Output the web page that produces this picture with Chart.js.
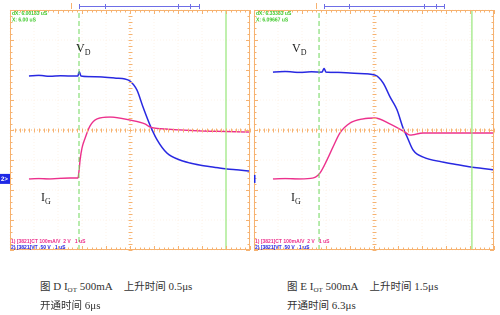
<!DOCTYPE html>
<html lang="zh">
<head>
<meta charset="UTF-8">
<title>IGBT turn-on waveforms</title>
<script src="https://cdn.jsdelivr.net/npm/chart.js@4.4.1/dist/chart.umd.min.js"></script>
<style>
  html, body { margin: 0; padding: 0; background: #fff; }
  body { width: 500px; height: 315px; position: relative; overflow: hidden; }
  .scope { position: absolute; top: 0; height: 256px; }
  #scopeD { left: 0; width: 252px; }
  #scopeE { left: 252px; width: 248px; }
  .lbl { position: absolute; font-family: "Liberation Serif", serif; font-size: 12px; color: #222; line-height: 12px; }
  .lbl sub { font-size: 8px; vertical-align: -3px; line-height: 0; }
  .cap { position: absolute; font-family: "Liberation Serif", "Noto Sans CJK SC", serif; font-size: 11px; color: #333; line-height: 13px; }
  .cap .cjk { font-family: "Noto Sans CJK SC", sans-serif; font-size: 10.5px; }
  .cap sub { font-size: 7px; vertical-align: -2px; line-height: 0; }
</style>
</head>
<body>
<div class="scope" id="scopeD"><canvas id="chartD"></canvas></div>
<div class="scope" id="scopeE"><canvas id="chartE"></canvas></div>

<div class="lbl" style="left:76px; top:42px;">V<sub>D</sub></div>
<div class="lbl" style="left:41px; top:191px;">I<sub>G</sub></div>
<div class="lbl" style="left:292px; top:42px;">V<sub>D</sub></div>
<div class="lbl" style="left:291px; top:191px;">I<sub>G</sub></div>

<div class="cap" style="left:40px; top:279px;"><span class="cjk">图</span> D I<sub>OT</sub> 500mA&nbsp;&nbsp;&nbsp; <span class="cjk">上升时间</span> 0.5μs</div>
<div class="cap" style="left:40px; top:298px;"><span class="cjk">开通时间</span> 6μs</div>
<div class="cap" style="left:287px; top:279px;"><span class="cjk">图</span> E I<sub>OT</sub> 500mA&nbsp;&nbsp;&nbsp; <span class="cjk">上升时间</span> 1.5μs</div>
<div class="cap" style="left:287px; top:298px;"><span class="cjk">开通时间</span> 6.3μs</div>

<script>
// time in divisions (1 uS/div), amplitude in divisions
const vdTimeD = [0.79, 1.2, 1.67, 2.1, 2.5, 2.83, 2.88, 2.96, 3.3, 3.75, 4.38, 4.79, 5.0, 5.29, 5.54, 5.83, 6.13, 6.54, 7.08, 7.5, 7.92, 8.5, 9.04, 9.5, 10.0];
const vdValsD = [1.8, 1.82, 1.79, 1.81, 1.8, 1.8, 1.95, 1.8, 1.78, 1.77, 1.73, 1.7, 1.63, 1.33, 0.77, 0.17, -0.33, -0.77, -1.0, -1.1, -1.17, -1.24, -1.3, -1.33, -1.37];
const igTimeD = [0.79, 1.2, 1.67, 2.1, 2.5, 2.83, 2.88, 2.92, 3.0, 3.13, 3.33, 3.63, 4.17, 5.0, 5.63, 5.83, 6.54, 7.92, 9.0, 10.0];
const igValsD = [-1.63, -1.62, -1.63, -1.61, -1.6, -1.6, -1.33, -1.0, -0.6, -0.27, 0.13, 0.37, 0.43, 0.33, 0.2, 0.1, 0.03, -0.03, -0.05, -0.07];

const vdTimeE = [0.79, 1.3, 1.92, 2.4, 2.83, 2.92, 3.0, 3.5, 4.0, 4.5, 5.04, 5.38, 5.67, 5.96, 6.21, 6.38, 6.63, 7.04, 7.88, 8.5, 9.0, 9.5, 10.0];
const vdValsE = [1.93, 1.95, 1.92, 1.94, 1.93, 2.05, 1.93, 1.92, 1.9, 1.88, 1.83, 1.57, 1.1, 0.67, 0.07, -0.23, -0.67, -0.9, -1.07, -1.16, -1.23, -1.28, -1.33];
const igTimeE = [0.79, 1.3, 1.92, 2.46, 2.75, 3.04, 3.29, 3.58, 4.0, 4.54, 5.04, 5.67, 6.29, 6.5, 7.04, 8.17, 9.0, 10.0];
const igValsE = [-1.63, -1.62, -1.63, -1.6, -1.43, -1.0, -0.57, -0.1, 0.23, 0.37, 0.4, 0.2, -0.07, -0.17, -0.1, -0.1, -0.1, -0.1];

// cursors: [dashed, solid]
const cursorsD = [2.875, 9.0];
const cursorsE = [2.71, 9.08];
// top measurement bar: start, end, tick marks
const barD = [2.875, 7.875];
const barTicksD = [2.875, 3.96, 7.0, 7.5, 7.875];
const barE = [2.92, 7.92];
const barTicksE = [2.92, 3.96, 7.08, 7.58, 7.92];
const trigD = 2.54;
const trigE = 2.58;
const ch2Level = -1.63;

const readoutD = ['dX: 6.00133 uS', 'X: 6.00 uS'];
const readoutE = ['dX: 6.33333 uS', 'X: 6.09667 uS'];
const probeText = ['1) [3821]CT 100mA/V  2 V   1 uS', '2) [3821]VT  50 V   1 uS'];

const ORANGE = 'rgb(246,178,112)';
const BLUE = 'rgb(40,40,225)';
const PINK = 'rgb(236,48,140)';
const GREEN = 'rgb(110,214,90)';

function pts(xs, ys) { return xs.map((v, i) => ({ x: v, y: ys[i] })); }

const scopeDecor = {
  id: 'scopeDecor',
  afterDraw(chart, args, opts) {
    const { ctx, chartArea: a, scales: { x, y } } = chart;
    ctx.save();
    ctx.strokeStyle = ORANGE;
    ctx.lineWidth = 1;
    ctx.strokeRect(a.left + 0.5, a.top + 0.5, a.width - 1, a.height - 1);
    const cx = Math.round(x.getPixelForValue(5)) + 0.5;
    const cy = Math.round(y.getPixelForValue(0)) + 0.5;
    ctx.beginPath();
    for (let i = 0; i <= 50; i++) {
      const px = Math.round(x.getPixelForValue(i * 0.2)) + 0.5;
      const len = i % 5 === 0 ? 4 : 2.5;
      ctx.moveTo(px, a.top); ctx.lineTo(px, a.top + len);
      ctx.moveTo(px, a.bottom); ctx.lineTo(px, a.bottom - len);
      ctx.moveTo(px, cy - 2); ctx.lineTo(px, cy + 2);
    }
    for (let i = 0; i <= 40; i++) {
      const py = Math.round(y.getPixelForValue(-4 + i * 0.2)) + 0.5;
      const len = i % 5 === 0 ? 4 : 2.5;
      ctx.moveTo(a.left, py); ctx.lineTo(a.left + len, py);
      ctx.moveTo(a.right, py); ctx.lineTo(a.right - len, py);
      ctx.moveTo(cx - 2, py); ctx.lineTo(cx + 2, py);
    }
    ctx.stroke();

    // trigger marker
    const tx = Math.round(x.getPixelForValue(opts.trig)) + 0.5;
    ctx.beginPath(); ctx.moveTo(tx, a.top - 7); ctx.lineTo(tx, a.top - 1); ctx.stroke();

    // measurement bar
    ctx.strokeStyle = 'rgb(110,110,230)';
    const by = a.top - 3.5;
    ctx.beginPath();
    ctx.moveTo(x.getPixelForValue(opts.bar[0]), by);
    ctx.lineTo(x.getPixelForValue(opts.bar[1]), by);
    opts.barTicks.forEach(v => {
      const px = Math.round(x.getPixelForValue(v)) + 0.5;
      ctx.moveTo(px, by - 2.5); ctx.lineTo(px, by + 2.5);
    });
    ctx.stroke();

    // readouts
    ctx.font = 'bold 5px "Liberation Sans", sans-serif';
    ctx.textBaseline = 'middle';
    ctx.fillStyle = 'rgb(60,200,40)';
    opts.readout.forEach((t, i) => ctx.fillText(t, a.left + 2, a.top + 3.5 + i * 6.5));
    ctx.fillStyle = PINK;
    ctx.fillText(probeText[0], a.left + 1, a.bottom - 8.5);
    ctx.fillStyle = BLUE;
    ctx.fillText(probeText[1], a.left + 1, a.bottom - 2.5);

    // channel 2 ground marker
    const gy = y.getPixelForValue(ch2Level);
    ctx.fillStyle = 'rgb(30,40,230)';
    if (opts.tag) {
      ctx.fillRect(a.left - 10, gy - 5, 10, 10);
      ctx.fillStyle = '#fff';
      ctx.font = 'bold 6px "Liberation Sans", sans-serif';
      ctx.fillText('2>', a.left - 9, gy + 0.5);
    } else {
      ctx.fillRect(a.left, gy - 4, 1.5, 8);
    }
    ctx.restore();
  }
};

function makeScope(id, vd, ig, cursors, deco, pad) {
  return new Chart(document.getElementById(id), {
    type: 'line',
    data: {
      datasets: [
        { data: [{ x: cursors[0], y: -4 }, { x: cursors[0], y: 4 }], borderColor: GREEN, borderWidth: 1, borderDash: [5, 3], pointRadius: 0 },
        { data: [{ x: cursors[1], y: -4 }, { x: cursors[1], y: 4 }], borderColor: 'rgb(150,230,120)', borderWidth: 1.2, pointRadius: 0 },
        { data: ig, borderColor: PINK, borderWidth: 1.4, pointRadius: 0, cubicInterpolationMode: 'monotone' },
        { data: vd, borderColor: BLUE, borderWidth: 1.5, pointRadius: 0, cubicInterpolationMode: 'monotone' }
      ]
    },
    options: {
      responsive: true,
      maintainAspectRatio: false,
      animation: false,
      devicePixelRatio: 2,
      layout: { padding: pad },
      plugins: { legend: { display: false }, tooltip: { enabled: false }, scopeDecor: deco },
      scales: {
        x: {
          type: 'linear', min: 0, max: 10,
          ticks: { display: false, stepSize: 1 },
          grid: {
            drawTicks: false,
            color: c => c.tick.value === 5 ? ORANGE : 'rgba(246,190,140,0.18)'
          },
          border: { display: false, dash: [1, 2] }
        },
        y: {
          type: 'linear', min: -4, max: 4,
          ticks: { display: false, stepSize: 1 },
          grid: {
            drawTicks: false,
            color: c => c.tick.value === 0 ? ORANGE : 'rgba(246,190,140,0.18)'
          },
          border: { display: false, dash: [1, 2] }
        }
      }
    },
    plugins: [scopeDecor]
  });
}

makeScope('chartD', pts(vdTimeD, vdValsD), pts(igTimeD, igValsD), cursorsD,
  { readout: readoutD, bar: barD, barTicks: barTicksD, trig: trigD, tag: true },
  { left: 10, top: 10, right: 2, bottom: 6 });
makeScope('chartE', pts(vdTimeE, vdValsE), pts(igTimeE, igValsE), cursorsE,
  { readout: readoutE, bar: barE, barTicks: barTicksE, trig: trigE, tag: false },
  { left: 2, top: 10, right: 6, bottom: 6 });
</script>
</body>
</html>
